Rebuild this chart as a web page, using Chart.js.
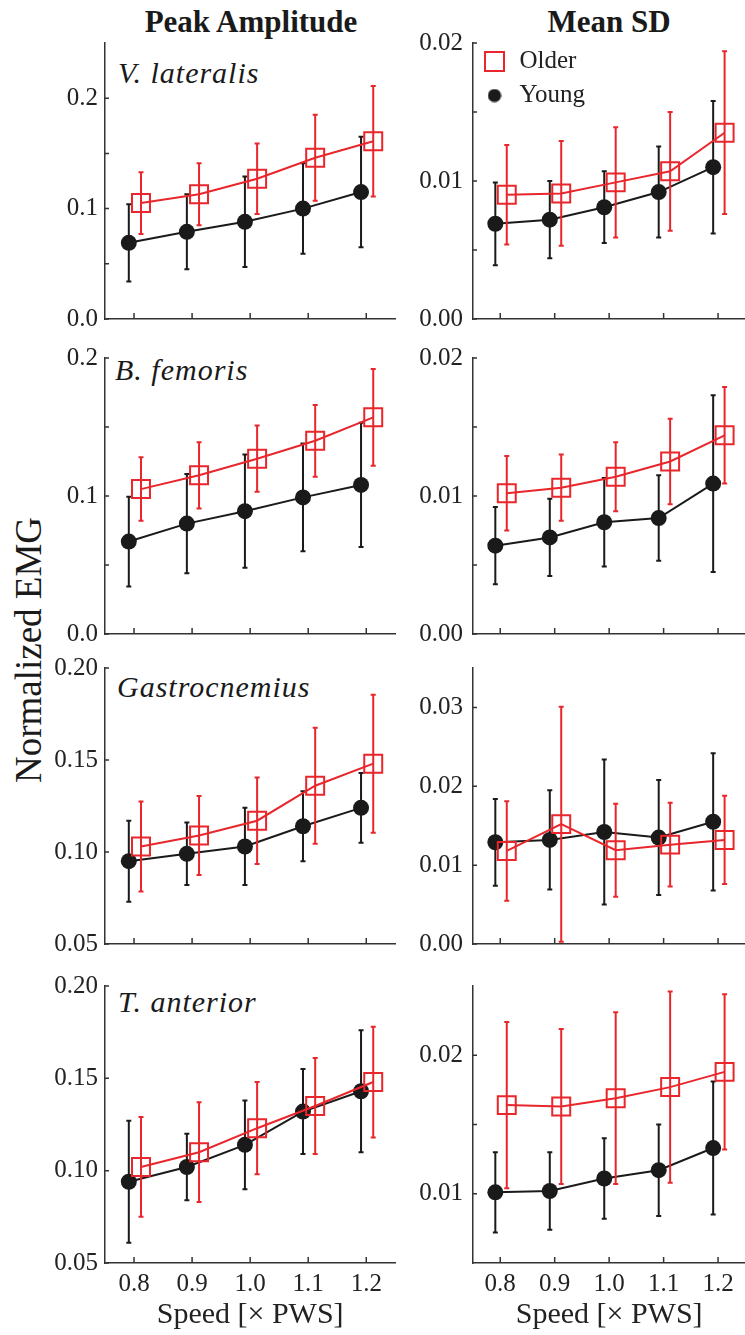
<!DOCTYPE html>
<html><head><meta charset="utf-8">
<script src="https://cdn.jsdelivr.net/npm/chart.js@4.4.0/dist/chart.umd.min.js"></script>
<style>
html,body{margin:0;padding:0;background:#fff;overflow:hidden;width:745px;height:1335px;}
#wrap{position:relative;width:745px;height:1335px;overflow:hidden;background:#fff;}
canvas{position:absolute;}
.t{position:absolute;font-family:"Liberation Serif","Times New Roman",serif;color:#1a1a1a;line-height:1;white-space:pre;}
.col{font-weight:bold;font-size:31px;transform:translateX(-50%);top:6px;}
.mus{font-style:italic;font-size:30px;letter-spacing:1px;}
#ylab{font-size:37px;left:28px;top:650px;transform:translate(-50%,-50%) rotate(-90deg);}
</style></head>
<body><div id="wrap">
<div class="t col" style="left:251px">Peak Amplitude</div>
<div class="t col" style="left:609px">Mean SD</div>
<div class="t" id="ylab">Normalized EMG</div>
<div class="t mus" id="m0" style="left:118px;top:58px"></div>
<div class="t mus" id="m1" style="left:115px;top:355px"></div>
<div class="t mus" id="m2" style="left:117px;top:672px"></div>
<div class="t mus" id="m3" style="left:118px;top:987px"></div>
</div>
<script>
// ---------------- data ----------------
const speeds = [0.8, 0.9, 1.0, 1.1, 1.2];
const speedLabels = ['0.8', '0.9', '1.0', '1.1', '1.2'];
const groups = ['Older', 'Young'];
const muscles = ['V. lateralis', 'B. femoris', 'Gastrocnemius', 'T. anterior'];
const xAxisTitle = 'Speed [\u00d7 PWS]';

// Peak amplitude (left column)
const vlPeakYoung   = [0.069, 0.079, 0.088, 0.100, 0.115];
const vlPeakYoungSD = [0.035, 0.034, 0.041, 0.041, 0.050];
const vlPeakOlder   = [0.105, 0.113, 0.127, 0.146, 0.161];
const vlPeakOlderSD = [0.028, 0.028, 0.032, 0.039, 0.050];

const bfPeakYoung   = [0.067, 0.080, 0.089, 0.099, 0.108];
const bfPeakYoungSD = [0.0325, 0.036, 0.041, 0.039, 0.045];
const bfPeakOlder   = [0.105, 0.115, 0.127, 0.140, 0.157];
const bfPeakOlderSD = [0.023, 0.024, 0.024, 0.026, 0.035];

const gaPeakYoung   = [0.095, 0.099, 0.103, 0.114, 0.124];
const gaPeakYoungSD = [0.022, 0.017, 0.021, 0.019, 0.019];
const gaPeakOlder   = [0.103, 0.109, 0.117, 0.136, 0.148];
const gaPeakOlderSD = [0.0245, 0.0215, 0.0235, 0.0315, 0.0375];

const taPeakYoung   = [0.094, 0.102, 0.114, 0.132, 0.143];
const taPeakYoungSD = [0.033, 0.018, 0.024, 0.023, 0.033];
const taPeakOlder   = [0.102, 0.110, 0.123, 0.135, 0.148];
const taPeakOlderSD = [0.027, 0.027, 0.025, 0.026, 0.030];

// Mean SD (right column)
const vlSdYoung   = [0.0069, 0.0072, 0.0081, 0.0092, 0.0110];
const vlSdYoungSD = [0.0030, 0.0028, 0.0026, 0.0033, 0.0048];
const vlSdOlder   = [0.0090, 0.0091, 0.0099, 0.0107, 0.0135];
const vlSdOlderSD = [0.0036, 0.0038, 0.0040, 0.0043, 0.0059];

const bfSdYoung   = [0.0064, 0.0070, 0.0081, 0.0084, 0.0109];
const bfSdYoungSD = [0.0028, 0.0028, 0.0032, 0.0031, 0.0064];
const bfSdOlder   = [0.0102, 0.0106, 0.0114, 0.0125, 0.0144];
const bfSdOlderSD = [0.0027, 0.0024, 0.0025, 0.0031, 0.0035];

const gaSdYoung   = [0.0129, 0.0132, 0.0142, 0.0135, 0.0155];
const gaSdYoungSD = [0.0055, 0.0063, 0.0092, 0.0073, 0.0087];
const gaSdOlder   = [0.0118, 0.0152, 0.0119, 0.0126, 0.0132];
const gaSdOlderSD = [0.0063, 0.0149, 0.0059, 0.0053, 0.0056];

const taSdYoung   = [0.0101, 0.0102, 0.0111, 0.0117, 0.0133];
const taSdYoungSD = [0.0029, 0.0028, 0.0029, 0.0033, 0.0048];
const taSdOlder   = [0.0164, 0.0163, 0.0169, 0.0177, 0.0188];
const taSdOlderSD = [0.0060, 0.0056, 0.0062, 0.0069, 0.0056];

// y tick values and labels ('' = unlabeled minor tick)
const peakTicks12  = [0, 0.05, 0.1, 0.15, 0.2];
const peakLabels12 = ['0.0', '', '0.1', '', '0.2'];
const peakTicks34  = [0.05, 0.10, 0.15, 0.20];
const peakLabels34 = ['0.05', '0.10', '0.15', '0.20'];
const sdTicks12    = [0, 0.005, 0.01, 0.015, 0.02];
const sdLabels12   = ['0.00', '', '0.01', '', '0.02'];
const sdTicks3     = [0, 0.01, 0.02, 0.03];
const sdLabels3    = ['0.00', '0.01', '0.02', '0.03'];
const sdTicks4     = [0.01, 0.015, 0.02];
const sdLabels4    = ['0.01', '', '0.02'];

// ---------------- styling ----------------
const FONT = '"Liberation Serif", "Times New Roman", serif';
const RED = '#e8262b';
const BLACK = '#1a1a1a';
const AXIS = '#333333';
const TEXT = '#222222';
const YOUNG_DX = -0.009, OLDER_DX = 0.012;

Chart.defaults.font.family = FONT;
Chart.defaults.color = TEXT;

muscles.forEach((m, i) => { document.getElementById('m' + i).textContent = m; });

const errorBars = {
  id: 'errorBars',
  beforeDatasetDraw(chart, args) {
    const ds = chart.data.datasets[args.index];
    if (!ds.sd) return;
    const {ctx} = chart; const xs = chart.scales.x, ys = chart.scales.y;
    ctx.save();
    ctx.strokeStyle = ds.borderColor; ctx.lineWidth = 2;
    ctx.beginPath();
    ds.data.forEach((p, i) => {
      const px = xs.getPixelForValue(p.x);
      const y1 = ys.getPixelForValue(p.y - ds.sd[i]);
      const y2 = ys.getPixelForValue(p.y + ds.sd[i]);
      ctx.moveTo(px, y1); ctx.lineTo(px, y2);
      ctx.moveTo(px - 2.5, y1); ctx.lineTo(px + 2.5, y1);
      ctx.moveTo(px - 2.5, y2); ctx.lineTo(px + 2.5, y2);
    });
    ctx.stroke();
    ctx.restore();
  }
};

const inwardTicks = {
  id: 'inwardTicks',
  afterDraw(chart) {
    const {ctx, chartArea: a} = chart; const xs = chart.scales.x, ys = chart.scales.y;
    ctx.save(); ctx.strokeStyle = AXIS; ctx.lineWidth = 1.5;
    ctx.beginPath();
    xs.ticks.forEach(t => { const px = xs.getPixelForValue(t.value); ctx.moveTo(px, a.bottom); ctx.lineTo(px, a.bottom - 6); });
    ys.ticks.forEach(t => { const py = ys.getPixelForValue(t.value); ctx.moveTo(a.left, py); ctx.lineTo(a.left + 4, py); });
    ctx.stroke(); ctx.restore();
  }
};

// small filled dot used as the legend symbol for "Young"
const dot = document.createElement('canvas');
dot.width = 14; dot.height = 14;
(function(){ const c = dot.getContext('2d'); c.fillStyle = BLACK; c.beginPath(); c.arc(7, 7, 6.6, 0, Math.PI * 2); c.fill(); })();

function panel(p) {
  const wrap = document.getElementById('wrap');
  const cv = document.createElement('canvas');
  cv.width = p.w; cv.height = p.h;
  cv.style.left = p.left + 'px'; cv.style.top = p.top + 'px';
  cv.style.width = p.w + 'px'; cv.style.height = p.h + 'px';
  wrap.appendChild(cv);
  const bottomRow = p.bottomRow;
  new Chart(cv, {
    type: 'line',
    data: {
      datasets: [
        { label: groups[0], data: speeds.map((s, i) => ({x: s + OLDER_DX, y: p.older[i]})), sd: p.olderSD,
          borderColor: RED, backgroundColor: 'rgba(0,0,0,0)', borderWidth: 2,
          pointStyle: 'rect', pointRadius: 12.7, pointBorderWidth: 2,
          pointBorderColor: RED, pointBackgroundColor: 'rgba(0,0,0,0)', tension: 0, clip: false },
        { label: groups[1], data: speeds.map((s, i) => ({x: s + YOUNG_DX, y: p.young[i]})), sd: p.youngSD,
          borderColor: BLACK, backgroundColor: BLACK, borderWidth: 2,
          pointStyle: 'circle', pointRadius: 8, pointBorderWidth: 0,
          pointBackgroundColor: BLACK, tension: 0, clip: false }
      ]
    },
    options: {
      responsive: false, animation: false, devicePixelRatio: 1, events: [],
      layout: { padding: { left: 0, right: p.padR, top: 25, bottom: bottomRow ? 0 : 25 } },
      plugins: {
        tooltip: { enabled: false },
        legend: p.legend ? {
          display: true, position: 'chartArea', align: 'start',
          title: { display: true, text: '', font: { size: 10, lineHeight: 1 }, padding: { top: 12, bottom: 0 } },
          labels: {
            usePointStyle: true, boxHeight: 19, padding: 9, color: TEXT,
            font: { family: FONT, size: 25 },
            generateLabels(chart) {
              const items = Chart.defaults.plugins.legend.labels.generateLabels(chart);
              if (items[1]) items[1].pointStyle = dot;
              return items;
            }
          }
        } : { display: false }
      },
      scales: {
        x: {
          type: 'linear', min: 0.75, max: 1.25,
          afterBuildTicks: s => { s.ticks = speeds.map(v => ({value: v})); },
          afterFit: s => { s.height = bottomRow ? 72 : 4; },
          grid: { display: false, drawTicks: false },
          border: { display: true, color: AXIS, width: 1.5 },
          ticks: { display: bottomRow, autoSkip: false, maxRotation: 0, padding: 6,
                   font: { family: FONT, size: 25 }, color: TEXT,
                   callback: (v, i) => speedLabels[i] },
          title: { display: bottomRow, text: xAxisTitle, color: TEXT,
                   font: { family: FONT, size: 30 }, padding: { top: 0, bottom: 2 } }
        },
        y: {
          type: 'linear', min: p.ymin, max: p.ymax,
          afterBuildTicks: s => { s.ticks = p.ticks.map(v => ({value: v})); },
          afterFit: s => { s.width = p.yw; },
          grid: { display: false, drawTicks: false },
          border: { display: true, color: AXIS, width: 1.5 },
          ticks: { autoSkip: false, padding: p.tickPad, font: { family: FONT, size: 25 }, color: TEXT,
                   callback: (v, i) => p.labels[i] }
        }
      }
    },
    plugins: [errorBars, inwardTicks]
  });
}

const L = { left: 0, w: 410, yw: 105, padR: 8, tickPad: 7 };
const R = { left: 410, w: 350, yw: 63, padR: 10, tickPad: 10 };
const rows = [
  { top: 18,  h: 330, bottomRow: false },
  { top: 333, h: 330, bottomRow: false },
  { top: 643, h: 330, bottomRow: false },
  { top: 961, h: 374, bottomRow: true }
];

panel(Object.assign({}, L, rows[0], { young: vlPeakYoung, youngSD: vlPeakYoungSD, older: vlPeakOlder, olderSD: vlPeakOlderSD, ymin: 0, ymax: 0.25, ticks: peakTicks12, labels: peakLabels12 }));
panel(Object.assign({}, R, rows[0], { young: vlSdYoung, youngSD: vlSdYoungSD, older: vlSdOlder, olderSD: vlSdOlderSD, ymin: 0, ymax: 0.02, ticks: sdTicks12, labels: sdLabels12, legend: true }));
panel(Object.assign({}, L, rows[1], { young: bfPeakYoung, youngSD: bfPeakYoungSD, older: bfPeakOlder, olderSD: bfPeakOlderSD, ymin: 0, ymax: 0.2, ticks: peakTicks12, labels: peakLabels12 }));
panel(Object.assign({}, R, rows[1], { young: bfSdYoung, youngSD: bfSdYoungSD, older: bfSdOlder, olderSD: bfSdOlderSD, ymin: 0, ymax: 0.02, ticks: sdTicks12, labels: sdLabels12 }));
panel(Object.assign({}, L, rows[2], { young: gaPeakYoung, youngSD: gaPeakYoungSD, older: gaPeakOlder, olderSD: gaPeakOlderSD, ymin: 0.05, ymax: 0.2, ticks: peakTicks34, labels: peakLabels34 }));
panel(Object.assign({}, R, rows[2], { young: gaSdYoung, youngSD: gaSdYoungSD, older: gaSdOlder, olderSD: gaSdOlderSD, ymin: 0, ymax: 0.035, ticks: sdTicks3, labels: sdLabels3 }));
panel(Object.assign({}, L, rows[3], { young: taPeakYoung, youngSD: taPeakYoungSD, older: taPeakOlder, olderSD: taPeakOlderSD, ymin: 0.05, ymax: 0.2, ticks: peakTicks34, labels: peakLabels34 }));
panel(Object.assign({}, R, rows[3], { young: taSdYoung, youngSD: taSdYoungSD, older: taSdOlder, olderSD: taSdOlderSD, ymin: 0.005, ymax: 0.025, ticks: sdTicks4, labels: sdLabels4 }));
</script>
</body></html>
